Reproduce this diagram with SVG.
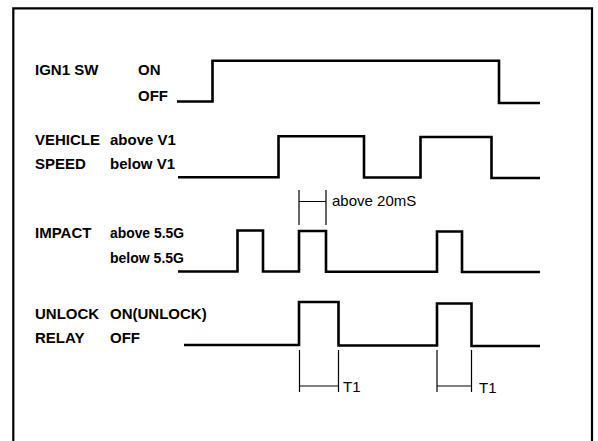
<svg xmlns="http://www.w3.org/2000/svg" width="598" height="441" viewBox="0 0 598 441">
<style>
.lbl{font-family:"Liberation Sans",Arial,sans-serif;font-weight:bold;font-size:15px;fill:#000}
.dim{font-family:"Liberation Sans",Arial,sans-serif;font-size:15px;fill:#000}
.sig{fill:none;stroke:#000;stroke-width:2.6;stroke-linejoin:miter}
.dl{fill:none;stroke:#000;stroke-width:1.2}
</style>
<rect width="598" height="441" fill="#fff"/>
<path d="M13.3,445 V8.3 H592 V445" fill="none" stroke="#000" stroke-width="2.2"/>
<g id="ign1">
<text class="lbl" x="35" y="75">IGN1 SW</text>
<text class="lbl" x="138" y="75">ON</text>
<text class="lbl" x="138" y="101">OFF</text>
</g>
<g id="vehicle">
<text class="lbl" x="35" y="145">VEHICLE</text>
<text class="lbl" x="110" y="145">above V1</text>
<text class="lbl" x="35" y="169">SPEED</text>
<text class="lbl" x="110" y="169">below V1</text>
</g>
<g id="impact">
<text class="lbl" x="35" y="238">IMPACT</text>
<text class="lbl" x="110" y="238" textLength="74" lengthAdjust="spacingAndGlyphs">above 5.5G</text>
<text class="lbl" x="110" y="263" textLength="74" lengthAdjust="spacingAndGlyphs">below 5.5G</text>
</g>
<g id="unlock">
<text class="lbl" x="35" y="319">UNLOCK</text>
<text class="lbl" x="110" y="319">ON(UNLOCK)</text>
<text class="lbl" x="35" y="343">RELAY</text>
<text class="lbl" x="110" y="343">OFF</text>
</g>
<g id="connectors">
<path class="sig" d="M177,101.5 H212.5 V60.8 H499 V103 H540"/>
<path class="sig" d="M178,177.3 H278.5 V136.3 H364 V177.5 H420.5 V137 H491.5 V178 H540"/>
<path class="sig" d="M178,271.5 H237.5 V230.5 H263 V271.5 H299 V231 H326 V271.8 H437 V231.5 H462 V272 H540"/>
<path class="sig" d="M184,345 H299 V302 H338.5 V345.5 H437 V303.5 H471.5 V346 H540"/>
<g id="dim-20ms">
<path class="dl" d="M299,190 V225 M326,190 V225 M299,201.5 H326"/>
<text class="dim" x="332" y="206">above 20mS</text>
</g>
<g id="dim-t1a">
<path class="dl" d="M299.5,350 V392 M338.5,350 V392 M299.5,386 H338.5"/>
<text class="dim" x="343" y="392">T1</text>
</g>
<g id="dim-t1b">
<path class="dl" d="M437,350 V392 M471.5,350 V392 M437,386 H471.5"/>
<text class="dim" x="479" y="393">T1</text>
</g>
</g>
</svg>
